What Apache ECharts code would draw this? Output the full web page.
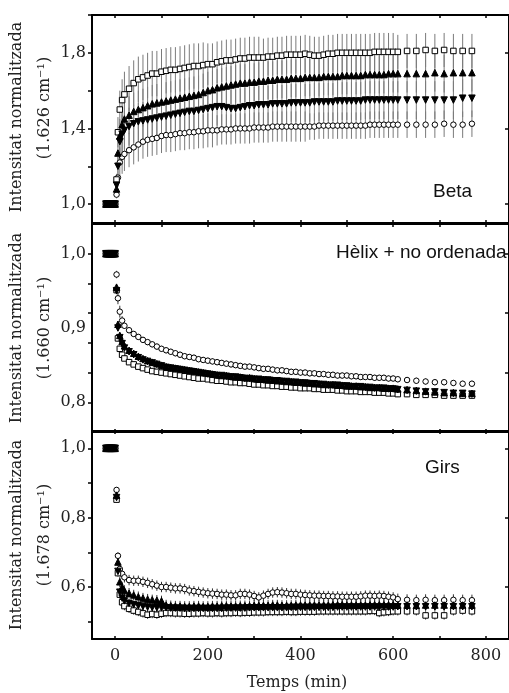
<!DOCTYPE html>
<html><head><meta charset="utf-8">
<script src="https://cdn.jsdelivr.net/npm/echarts@6/dist/echarts.min.js"></script>
<style>html,body{margin:0;padding:0;background:#fff}#c{width:509px;height:693px}</style>
</head><body><div id="c"></div>
<script>
// ---- shared times ----
const preTimes = [-20,-18,-16,-14,-12,-10,-8,-6,-4,-2,0];
const preValues = [1,1,1,1,1,1,1,1,1,1,1];
const times = [3,6,10,15,
 20,30,40,50,60,70,80,90,100,110,
 120,130,140,150,160,170,180,190,200,210,
 220,230,240,250,260,270,280,290,300,310,
 320,330,340,350,360,370,380,390,400,410,
 420,430,440,450,460,470,480,490,500,510,
 520,530,540,550,560,570,580,590,600,
 610,630,650,670,690,710,730,750,770];
const xTickValues = [0,100,200,300,400,500,600,700,800];
const xLabelValues = [0,200,400,600,800];

// ---- Beta (1.626 cm-1) ----
const betaSquares = [1.13,1.38,1.50,1.55,
 1.58,1.61,1.64,1.66,1.67,1.68,1.69,1.69,1.70,1.705,
 1.71,1.71,1.715,1.72,1.725,1.73,1.73,1.735,1.74,1.74,
 1.75,1.755,1.76,1.76,1.765,1.77,1.77,1.775,1.775,1.775,
 1.775,1.78,1.78,1.785,1.785,1.79,1.79,1.79,1.79,1.795,
 1.79,1.785,1.785,1.79,1.795,1.795,1.80,1.80,1.80,1.80,
 1.80,1.80,1.80,1.80,1.805,1.805,1.805,1.805,1.805,
 1.805,1.81,1.81,1.815,1.81,1.815,1.81,1.81,1.81];
const betaSquaresErr = [0.03,0.08,0.10,0.11,
 0.12,0.12,0.12,0.12,0.12,0.12,0.12,0.12,0.12,0.12,
 0.12,0.12,0.12,0.12,0.12,0.12,0.12,0.12,0.11,0.11,
 0.11,0.11,0.11,0.11,0.11,0.11,0.11,0.11,0.11,0.11,
 0.10,0.10,0.10,0.10,0.10,0.10,0.10,0.10,0.10,0.10,
 0.10,0.10,0.10,0.10,0.10,0.10,0.10,0.10,0.10,0.10,
 0.10,0.10,0.10,0.10,0.10,0.10,0.10,0.10,0.10,
 0.09,0.09,0.09,0.09,0.09,0.09,0.09,0.09,0.09];
const betaUp = [1.08,1.27,1.36,1.42,
 1.45,1.47,1.49,1.50,1.51,1.52,1.53,1.535,1.54,1.545,
 1.55,1.555,1.56,1.565,1.57,1.575,1.58,1.59,1.60,1.605,
 1.615,1.62,1.625,1.63,1.635,1.64,1.64,1.645,1.645,1.65,
 1.65,1.655,1.655,1.66,1.66,1.66,1.665,1.665,1.665,1.67,
 1.67,1.67,1.67,1.675,1.675,1.675,1.675,1.68,1.68,1.68,
 1.68,1.68,1.685,1.685,1.685,1.685,1.685,1.69,1.69,
 1.69,1.69,1.69,1.69,1.695,1.69,1.695,1.695,1.695];
const betaUpErr = [0.02,0.06,0.09,0.10,
 0.10,0.10,0.10,0.10,0.10,0.10,0.10,0.10,0.10,0.10,
 0.10,0.10,0.10,0.10,0.10,0.10,0.10,0.10,0.10,0.10,
 0.10,0.10,0.10,0.10,0.10,0.10,0.10,0.10,0.10,0.10,
 0.10,0.10,0.10,0.10,0.10,0.10,0.10,0.10,0.10,0.10,
 0.10,0.10,0.10,0.10,0.10,0.10,0.10,0.10,0.10,0.10,
 0.10,0.10,0.10,0.10,0.10,0.10,0.10,0.10,0.10,
 0.10,0.10,0.10,0.10,0.10,0.10,0.10,0.10,0.10];
const betaDown = [1.10,1.20,1.33,1.37,
 1.39,1.41,1.425,1.435,1.44,1.445,1.45,1.455,1.46,1.465,
 1.47,1.475,1.48,1.485,1.49,1.49,1.495,1.50,1.505,1.51,
 1.515,1.515,1.51,1.505,1.505,1.51,1.515,1.52,1.52,1.525,
 1.525,1.525,1.53,1.53,1.53,1.53,1.535,1.535,1.535,1.535,
 1.535,1.54,1.54,1.54,1.54,1.54,1.545,1.545,1.545,1.545,
 1.545,1.545,1.55,1.55,1.55,1.55,1.55,1.55,1.55,
 1.55,1.55,1.55,1.55,1.55,1.55,1.55,1.56,1.56];
const betaDownErr = [0.02,0.05,0.10,0.10,
 0.10,0.10,0.10,0.10,0.10,0.10,0.10,0.10,0.10,0.10,
 0.10,0.10,0.10,0.10,0.10,0.10,0.10,0.10,0.10,0.10,
 0.10,0.10,0.10,0.10,0.10,0.10,0.10,0.10,0.10,0.10,
 0.10,0.10,0.10,0.10,0.10,0.10,0.10,0.10,0.10,0.10,
 0.10,0.10,0.10,0.10,0.10,0.10,0.10,0.10,0.10,0.10,
 0.10,0.10,0.10,0.10,0.10,0.10,0.10,0.10,0.10,
 0.10,0.10,0.10,0.10,0.10,0.10,0.10,0.10,0.10];
const betaCircles = [1.05,1.14,1.22,1.25,
 1.265,1.285,1.30,1.315,1.33,1.34,1.345,1.35,1.36,1.365,
 1.365,1.37,1.375,1.375,1.38,1.38,1.385,1.385,1.39,1.39,
 1.39,1.395,1.395,1.395,1.40,1.40,1.40,1.40,1.405,1.405,
 1.405,1.405,1.41,1.41,1.41,1.41,1.41,1.41,1.41,1.41,
 1.41,1.41,1.415,1.415,1.415,1.415,1.415,1.415,1.415,1.415,
 1.415,1.415,1.415,1.42,1.42,1.42,1.42,1.42,1.42,
 1.42,1.42,1.42,1.42,1.42,1.425,1.42,1.42,1.425];
const betaCirclesErr = [0.02,0.05,0.08,0.09,
 0.09,0.09,0.09,0.09,0.09,0.09,0.09,0.09,0.09,0.09,
 0.09,0.09,0.09,0.09,0.09,0.09,0.09,0.09,0.09,0.09,
 0.08,0.08,0.08,0.08,0.08,0.08,0.08,0.08,0.08,0.08,
 0.08,0.08,0.08,0.08,0.08,0.08,0.08,0.08,0.08,0.08,
 0.07,0.07,0.07,0.07,0.07,0.07,0.07,0.07,0.07,0.07,
 0.07,0.07,0.07,0.07,0.07,0.07,0.07,0.07,0.07,
 0.07,0.07,0.07,0.07,0.07,0.07,0.07,0.07,0.07];

// ---- Helix + no ordenada (1.660 cm-1) ----
const helixSquares = [0.951,0.886,0.872,0.864,
 0.859,0.854,0.851,0.848,0.846,0.844,0.842,0.841,0.840,0.839,
 0.838,0.837,0.836,0.835,0.834,0.833,0.832,0.832,0.831,0.830,
 0.829,0.829,0.828,0.827,0.827,0.826,0.826,0.825,0.824,0.824,
 0.823,0.823,0.822,0.822,0.821,0.821,0.820,0.820,0.819,0.819,
 0.819,0.818,0.818,0.817,0.817,0.817,0.816,0.816,0.815,0.815,
 0.815,0.814,0.814,0.814,0.813,0.813,0.813,0.812,0.812,
 0.811,0.811,0.810,0.810,0.810,0.809,0.809,0.809,0.809];
const helixSquaresErr = [0.004,0.004,0.004,0.003,
 0.003,0.003,0.003,0.003,0.003,0.003,0.003,0.003,0.003,0.003,
 0.003,0.003,0.003,0.003,0.003,0.003,0.003,0.003,0.003,0.003,
 0.003,0.003,0.003,0.003,0.003,0.003,0.003,0.003,0.003,0.003,
 0.003,0.003,0.003,0.003,0.003,0.003,0.003,0.003,0.003,0.003,
 0.003,0.003,0.003,0.003,0.003,0.003,0.003,0.003,0.003,0.003,
 0.003,0.003,0.003,0.003,0.003,0.003,0.003,0.003,0.003,
 0.004,0.004,0.004,0.004,0.004,0.004,0.004,0.004,0.004];
const helixUp = [0.955,0.905,0.890,0.882,
 0.876,0.870,0.866,0.862,0.859,0.856,0.854,0.852,0.850,0.848,
 0.847,0.846,0.845,0.844,0.843,0.842,0.841,0.840,0.839,0.838,
 0.837,0.836,0.836,0.835,0.834,0.834,0.833,0.833,0.832,0.831,
 0.831,0.830,0.830,0.829,0.829,0.828,0.828,0.827,0.827,0.826,
 0.826,0.825,0.825,0.824,0.824,0.824,0.823,0.823,0.822,0.822,
 0.822,0.821,0.821,0.820,0.820,0.820,0.819,0.819,0.819,
 0.818,0.817,0.816,0.815,0.814,0.813,0.813,0.812,0.812];
const helixUpErr = [0.004,0.004,0.004,0.004,
 0.003,0.003,0.003,0.003,0.003,0.003,0.003,0.003,0.003,0.003,
 0.003,0.003,0.003,0.003,0.003,0.003,0.003,0.003,0.003,0.003,
 0.003,0.003,0.003,0.003,0.003,0.003,0.003,0.003,0.003,0.003,
 0.003,0.003,0.003,0.003,0.003,0.003,0.003,0.003,0.003,0.003,
 0.003,0.003,0.003,0.003,0.003,0.003,0.003,0.003,0.003,0.003,
 0.003,0.003,0.003,0.003,0.003,0.003,0.003,0.003,0.003,
 0.004,0.004,0.004,0.004,0.004,0.004,0.004,0.004,0.004];
const helixDown = [0.950,0.900,0.887,0.879,
 0.873,0.868,0.864,0.860,0.857,0.855,0.853,0.851,0.849,0.847,
 0.846,0.845,0.844,0.843,0.842,0.841,0.840,0.839,0.838,0.837,
 0.836,0.836,0.835,0.834,0.834,0.833,0.832,0.832,0.831,0.831,
 0.830,0.830,0.829,0.829,0.828,0.828,0.827,0.827,0.826,0.826,
 0.825,0.825,0.824,0.824,0.823,0.823,0.823,0.822,0.822,0.821,
 0.821,0.821,0.820,0.820,0.819,0.819,0.819,0.818,0.818,
 0.817,0.816,0.815,0.814,0.814,0.813,0.812,0.812,0.811];
const helixDownErr = [0.004,0.004,0.004,0.004,
 0.003,0.003,0.003,0.003,0.003,0.003,0.003,0.003,0.003,0.003,
 0.003,0.003,0.003,0.003,0.003,0.003,0.003,0.003,0.003,0.003,
 0.003,0.003,0.003,0.003,0.003,0.003,0.003,0.003,0.003,0.003,
 0.003,0.003,0.003,0.003,0.003,0.003,0.003,0.003,0.003,0.003,
 0.003,0.003,0.003,0.003,0.003,0.003,0.003,0.003,0.003,0.003,
 0.003,0.003,0.003,0.003,0.003,0.003,0.003,0.003,0.003,
 0.004,0.004,0.004,0.004,0.004,0.004,0.004,0.004,0.004];
const helixCircles = [0.972,0.940,0.922,0.910,
 0.903,0.897,0.892,0.888,0.884,0.881,0.878,0.875,0.872,0.870,
 0.868,0.866,0.864,0.862,0.861,0.860,0.858,0.857,0.856,0.855,
 0.854,0.853,0.852,0.851,0.850,0.849,0.848,0.848,0.847,0.846,
 0.845,0.845,0.844,0.843,0.843,0.842,0.841,0.841,0.840,0.840,
 0.839,0.839,0.838,0.838,0.837,0.837,0.836,0.836,0.836,0.835,
 0.835,0.834,0.834,0.834,0.833,0.833,0.833,0.832,0.832,
 0.831,0.830,0.829,0.828,0.827,0.827,0.826,0.825,0.825];
const helixCirclesErr = [0.005,0.008,0.008,0.006,
 0.004,0.004,0.004,0.004,0.004,0.004,0.004,0.004,0.004,0.004,
 0.004,0.004,0.004,0.004,0.004,0.004,0.004,0.004,0.004,0.004,
 0.004,0.004,0.004,0.004,0.004,0.004,0.004,0.004,0.004,0.004,
 0.004,0.004,0.004,0.004,0.004,0.004,0.004,0.004,0.004,0.004,
 0.004,0.004,0.004,0.004,0.004,0.004,0.004,0.004,0.004,0.004,
 0.004,0.004,0.004,0.004,0.004,0.004,0.004,0.004,0.004,
 0.004,0.004,0.004,0.004,0.004,0.004,0.004,0.004,0.004];

// ---- Girs (1.678 cm-1) ----
const girsSquares = [0.852,0.640,0.578,0.556,
 0.545,0.537,0.532,0.528,0.524,0.520,0.522,0.520,0.523,0.525,
 0.525,0.524,0.524,0.523,0.523,0.524,0.524,0.525,0.524,0.524,
 0.525,0.524,0.525,0.525,0.526,0.525,0.526,0.526,0.527,0.527,
 0.527,0.528,0.528,0.528,0.528,0.529,0.528,0.528,0.529,0.529,
 0.529,0.529,0.530,0.530,0.530,0.530,0.530,0.530,0.530,0.530,
 0.530,0.530,0.530,0.531,0.531,0.525,0.527,0.528,0.530,
 0.530,0.530,0.530,0.518,0.518,0.518,0.530,0.532,0.530];
const girsSquaresErr = [0.008,0.010,0.012,0.012,
 0.012,0.012,0.012,0.012,0.012,0.012,0.012,0.012,0.012,0.012,
 0.012,0.012,0.012,0.012,0.012,0.012,0.012,0.012,0.012,0.012,
 0.012,0.012,0.012,0.012,0.012,0.012,0.012,0.012,0.012,0.012,
 0.012,0.012,0.012,0.012,0.012,0.012,0.012,0.012,0.012,0.012,
 0.012,0.012,0.012,0.012,0.012,0.012,0.012,0.012,0.012,0.012,
 0.012,0.012,0.012,0.012,0.012,0.012,0.012,0.012,0.012,
 0.012,0.012,0.012,0.012,0.012,0.012,0.012,0.012,0.012];
const girsUp = [0.865,0.672,0.615,0.600,
 0.590,0.582,0.577,0.572,0.568,0.565,0.563,0.562,0.560,0.548,
 0.546,0.545,0.545,0.544,0.544,0.545,0.545,0.544,0.544,0.545,
 0.545,0.546,0.546,0.545,0.545,0.546,0.546,0.546,0.547,0.547,
 0.547,0.547,0.548,0.548,0.547,0.547,0.547,0.548,0.548,0.548,
 0.548,0.548,0.548,0.548,0.548,0.549,0.549,0.549,0.548,0.548,
 0.548,0.548,0.548,0.549,0.549,0.549,0.549,0.549,0.549,
 0.548,0.548,0.547,0.548,0.548,0.548,0.548,0.548,0.548];
const girsUpErr = [0.010,0.012,0.015,0.015,
 0.015,0.015,0.015,0.015,0.015,0.015,0.015,0.015,0.015,0.015,
 0.015,0.015,0.015,0.015,0.015,0.015,0.015,0.015,0.015,0.015,
 0.015,0.015,0.015,0.015,0.015,0.015,0.015,0.015,0.015,0.015,
 0.015,0.015,0.015,0.015,0.015,0.015,0.015,0.015,0.015,0.015,
 0.015,0.015,0.015,0.015,0.015,0.015,0.015,0.015,0.015,0.015,
 0.015,0.015,0.015,0.015,0.015,0.015,0.015,0.015,0.015,
 0.015,0.015,0.015,0.015,0.015,0.015,0.015,0.015,0.015];
const girsDown = [0.858,0.645,0.585,0.568,
 0.560,0.553,0.549,0.546,0.544,0.542,0.541,0.540,0.540,0.540,
 0.539,0.539,0.539,0.538,0.538,0.538,0.538,0.538,0.538,0.538,
 0.538,0.538,0.539,0.539,0.539,0.539,0.539,0.540,0.540,0.540,
 0.540,0.540,0.540,0.540,0.540,0.540,0.541,0.541,0.541,0.541,
 0.541,0.541,0.541,0.541,0.541,0.541,0.542,0.542,0.542,0.542,
 0.542,0.542,0.542,0.542,0.542,0.542,0.542,0.542,0.542,
 0.543,0.543,0.543,0.543,0.543,0.543,0.543,0.543,0.543];
const girsDownErr = [0.010,0.012,0.012,0.012,
 0.012,0.012,0.012,0.012,0.012,0.012,0.012,0.012,0.012,0.012,
 0.012,0.012,0.012,0.012,0.012,0.012,0.012,0.012,0.012,0.012,
 0.012,0.012,0.012,0.012,0.012,0.012,0.012,0.012,0.012,0.012,
 0.012,0.012,0.012,0.012,0.012,0.012,0.012,0.012,0.012,0.012,
 0.012,0.012,0.012,0.012,0.012,0.012,0.012,0.012,0.012,0.012,
 0.012,0.012,0.012,0.012,0.012,0.012,0.012,0.012,0.012,
 0.012,0.012,0.012,0.012,0.012,0.012,0.012,0.012,0.012];
const girsCircles = [0.880,0.690,0.652,0.638,
 0.628,0.620,0.618,0.618,0.615,0.612,0.608,0.604,0.600,0.600,
 0.598,0.596,0.596,0.594,0.590,0.588,0.586,0.584,0.582,0.581,
 0.580,0.578,0.578,0.576,0.576,0.580,0.580,0.578,0.574,0.570,
 0.575,0.580,0.584,0.585,0.584,0.582,0.580,0.580,0.578,0.577,
 0.576,0.575,0.575,0.574,0.574,0.573,0.573,0.572,0.572,0.572,
 0.572,0.573,0.575,0.575,0.574,0.575,0.574,0.572,0.570,
 0.565,0.563,0.562,0.563,0.562,0.562,0.563,0.562,0.562];
const girsCirclesErr = [0.008,0.010,0.012,0.015,
 0.015,0.015,0.015,0.015,0.015,0.015,0.015,0.015,0.015,0.015,
 0.015,0.015,0.015,0.015,0.015,0.015,0.015,0.015,0.015,0.015,
 0.015,0.015,0.015,0.015,0.015,0.015,0.015,0.015,0.015,0.015,
 0.015,0.015,0.015,0.015,0.015,0.015,0.015,0.015,0.015,0.015,
 0.015,0.015,0.015,0.015,0.015,0.015,0.015,0.015,0.015,0.015,
 0.015,0.015,0.015,0.015,0.015,0.015,0.015,0.015,0.015,
 0.016,0.016,0.016,0.016,0.016,0.016,0.016,0.016,0.016];

// ---- panel axes ----
const panels = [
  {min:0.9, max:2.0, leftTicks:[1.0,1.2,1.4,1.6,1.8,2.0], labels:[1.0,1.4,1.8], rightTicks:[1.0,1.4,1.8],
   label:'Beta', wn:'(1.626 cm⁻¹)', errColor:'#7a7a7a',
   sets:[[betaCircles,betaCirclesErr],[betaSquares,betaSquaresErr],[betaDown,betaDownErr],[betaUp,betaUpErr]]},
  {min:0.76, max:1.04, leftTicks:[0.8,0.84,0.88,0.92,0.96,1.0], labels:[0.8,0.9,1.0], rightTicks:[0.84,0.92,1.0],
   label:'Hèlix + no ordenada', wn:'(1.660 cm⁻¹)', errColor:'#333',
   sets:[[helixCircles,helixCirclesErr],[helixSquares,helixSquaresErr],[helixDown,helixDownErr],[helixUp,helixUpErr]]},
  {min:0.45, max:1.05, leftTicks:[0.5,0.6,0.7,0.8,0.9,1.0], labels:[0.6,0.8,1.0], rightTicks:[0.6,0.8,1.0],
   label:'Girs', wn:'(1.678 cm⁻¹)', errColor:'#333',
   sets:[[girsCircles,girsCirclesErr],[girsSquares,girsSquaresErr],[girsDown,girsDownErr],[girsUp,girsUpErr]]}
];
const markers = [
  {symbol:'circle', size:5.5, fill:'#fff', rotate:0},
  {symbol:'rect', size:5.5, fill:'#fff', rotate:0},
  {symbol:'triangle', size:6.5, fill:'#000', rotate:180},
  {symbol:'triangle', size:6.5, fill:'#000', rotate:0}
];

const gridTops = [15, 224, 431];
const SERIF = 'DejaVu Serif';
const grids = [], xAxes = [], yAxes = [], series = [], graphics = [];

panels.forEach((p, pi) => {
  grids.push({left:92, width:420, top:gridTops[pi], height:208});
  const line = {show:true, onZero:false, lineStyle:{color:'#000', width:2}};
  xAxes.push({type:'value', gridIndex:pi, min:-50, max:850, position:'bottom',
    axisLine:line, splitLine:{show:false},
    axisTick:{show:true, inside:true, length:3, customValues:xTickValues, lineStyle:{color:'#000', width:1.5}},
    axisLabel:{show:pi===2, customValues:xLabelValues, fontFamily:SERIF, fontSize:16, color:'#222', margin:9}});
  xAxes.push({type:'value', gridIndex:pi, min:-50, max:850, position:'top',
    axisLine:line, splitLine:{show:false},
    axisTick:{show:true, inside:true, length:3, customValues:xTickValues, lineStyle:{color:'#000', width:1.5}},
    axisLabel:{show:false}});
  yAxes.push({type:'value', gridIndex:pi, min:p.min, max:p.max, position:'left',
    axisLine:line, splitLine:{show:false},
    axisTick:{show:true, inside:false, length:4, customValues:p.leftTicks, lineStyle:{color:'#000', width:1.5}},
    axisLabel:{customValues:p.labels, fontFamily:SERIF, fontSize:16, color:'#222', margin:6,
      formatter: v => v.toFixed(1).replace('.', ',')}});
  yAxes.push({type:'value', gridIndex:pi, min:p.min, max:p.max, position:'right',
    axisLine:line, splitLine:{show:false},
    axisTick:{show:true, inside:true, length:4, customValues:p.rightTicks, lineStyle:{color:'#000', width:1.5}},
    axisLabel:{show:false}});

  const xi = pi*2, yi = pi*2;
  // error bars
  p.sets.forEach((s) => {
    const vals = s[0], errs = s[1];
    series.push({type:'custom', xAxisIndex:xi, yAxisIndex:yi, silent:true, z:1,
      data: times.map((t,i)=>[t, vals[i], errs[i]]),
      encode:{x:0, y:1},
      renderItem:(params, api) => {
        const x = api.value(0), v = api.value(1), e = api.value(2);
        const a = api.coord([x, v - e]), b = api.coord([x, v + e]);
        return {type:'line', shape:{x1:a[0], y1:a[1], x2:b[0], y2:b[1]},
          style:{stroke:p.errColor, lineWidth:1}};
      }});
  });
  // markers
  p.sets.forEach((s, si) => {
    const m = markers[si];
    const data = preTimes.map((t,i)=>[t, preValues[i]]).concat(times.map((t,i)=>[t, s[0][i]]));
    series.push({type:'scatter', xAxisIndex:xi, yAxisIndex:yi, silent:true, z:3+si,
      symbol:m.symbol, symbolSize:m.size, symbolRotate:m.rotate, data:data,
      itemStyle:{color:m.fill, borderColor:'#000', borderWidth:1, opacity:1}});
  });

  // y titles
  const cy = gridTops[pi] + 104;
  graphics.push({type:'text', x:17, y: pi===0 ? 117 : cy, rotation:Math.PI/2,
    style:{text:'Intensitat normalitzada', font:'16px "DejaVu Serif"', fill:'#222', textAlign:'center', textVerticalAlign:'middle'}});
  graphics.push({type:'text', x:45, y: pi===0 ? 108 : cy, rotation:Math.PI/2,
    style:{text:p.wn, font:'16px "DejaVu Serif"', fill:'#222', textAlign:'center', textVerticalAlign:'middle'}});
});

graphics.push({type:'text', left:433, top:182, style:{text:'Beta', font:'19px "Liberation Sans"', fill:'#111'}});
graphics.push({type:'text', left:336, top:243, style:{text:'Hèlix + no ordenada', font:'19px "Liberation Sans"', fill:'#111'}});
graphics.push({type:'text', left:425, top:458, style:{text:'Girs', font:'19px "Liberation Sans"', fill:'#111'}});
graphics.push({type:'text', x:297, y:683, style:{text:'Temps (min)', font:'16px "DejaVu Serif"', fill:'#222', textAlign:'center', textVerticalAlign:'middle'}});

const chart = echarts.init(document.getElementById('c'), null, {renderer:'canvas'});
chart.setOption({
  animation:false, backgroundColor:'#fff',
  grid:grids, xAxis:xAxes, yAxis:yAxes, series:series, graphic:graphics
});
</script></body></html>
